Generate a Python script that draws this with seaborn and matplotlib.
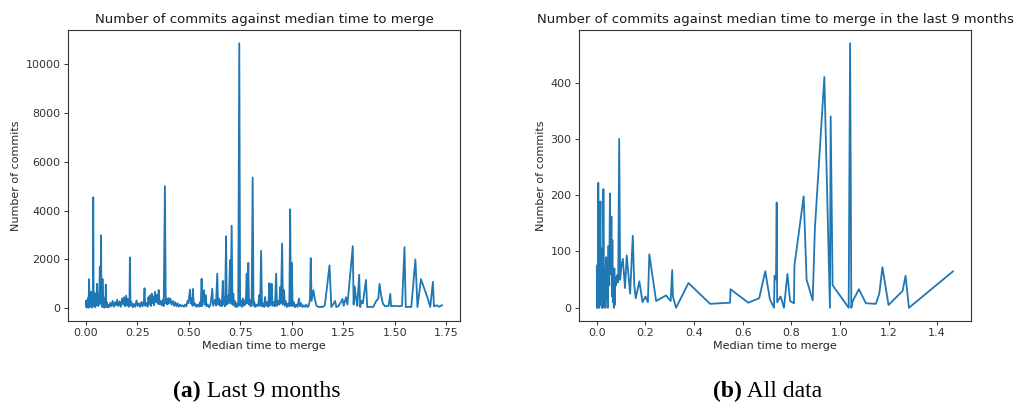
import matplotlib
matplotlib.use("Agg")
import matplotlib.pyplot as plt
import seaborn as sns
import pandas as pd

# ---- Panel (a): Last 9 months ----
left_x_dense = [0.000, 0.002, 0.004, 0.006, 0.008, 0.010, 0.012, 0.014, 0.016, 0.018,
                0.020, 0.022, 0.024, 0.026, 0.028, 0.030, 0.032, 0.034, 0.036, 0.038,
                0.040, 0.042, 0.044, 0.046, 0.048, 0.050, 0.052, 0.055, 0.057, 0.059,
                0.061, 0.063, 0.065, 0.068, 0.070, 0.072, 0.074, 0.076, 0.078, 0.080,
                0.081, 0.083, 0.085, 0.087, 0.089, 0.091, 0.093, 0.095, 0.097, 0.099,
                0.101, 0.103]
left_y_dense = [80, 320, 30, 280, 60, 420, 20, 350, 1190, 40,
                450, 80, 680, 120, 380, 30, 550, 150, 4540, 90,
                480, 220, 620, 40, 520, 130, 400, 1000, 180, 460,
                90, 560, 200, 1700, 260, 600, 2990, 150, 700, 50,
                1200, 250, 480, 60, 380, 30, 330, 100, 970, 60,
                260, 40]

left_x_mid = [0.106, 0.112, 0.118, 0.124, 0.130, 0.136, 0.142, 0.148, 0.152, 0.158,
              0.164, 0.170, 0.176, 0.182, 0.186, 0.190, 0.196, 0.200, 0.204, 0.208,
              0.212, 0.214, 0.217, 0.222, 0.228, 0.234, 0.240, 0.246, 0.252, 0.258,
              0.264, 0.270, 0.276, 0.282, 0.285, 0.288, 0.294, 0.300, 0.304, 0.308,
              0.312, 0.316, 0.320, 0.324, 0.328, 0.332, 0.336, 0.340, 0.346, 0.350,
              0.354, 0.358, 0.362, 0.368, 0.374, 0.378, 0.384, 0.388, 0.392, 0.396,
              0.400, 0.404, 0.410, 0.416, 0.422, 0.428, 0.434, 0.440, 0.446, 0.452,
              0.458, 0.464, 0.470, 0.476, 0.482, 0.488, 0.494, 0.498, 0.502, 0.506,
              0.510, 0.514, 0.518, 0.520, 0.524, 0.530, 0.536, 0.542, 0.548, 0.554,
              0.558, 0.562, 0.566, 0.570, 0.574, 0.578, 0.582, 0.586, 0.592, 0.598,
              0.604, 0.608, 0.614, 0.618, 0.622, 0.628, 0.632, 0.638, 0.642, 0.648,
              0.652, 0.656, 0.660, 0.665, 0.668, 0.672, 0.676, 0.681, 0.684, 0.688,
              0.692, 0.696, 0.700, 0.703, 0.708, 0.712, 0.716, 0.720, 0.724, 0.728,
              0.732, 0.736, 0.740, 0.745, 0.749, 0.754, 0.758, 0.762, 0.766, 0.770,
              0.774, 0.778, 0.781, 0.784, 0.789, 0.792, 0.796, 0.800, 0.805, 0.810,
              0.814, 0.818, 0.822, 0.828, 0.834, 0.838, 0.842, 0.846, 0.851, 0.855,
              0.860, 0.866, 0.870, 0.874, 0.880, 0.886, 0.891, 0.895, 0.898, 0.902,
              0.906, 0.912, 0.918, 0.924, 0.928, 0.934, 0.940, 0.943, 0.947, 0.953,
              0.957, 0.962, 0.966, 0.970, 0.976, 0.982, 0.988, 0.992, 0.996, 1.000,
              1.004, 1.010, 1.016, 1.022, 1.028, 1.035, 1.040, 1.046, 1.052, 1.058,
              1.064, 1.070, 1.076, 1.082, 1.088]
left_y_mid = [150, 40, 220, 80, 300, 60, 250, 120, 350, 90,
              280, 60, 400, 150, 450, 80, 520, 120, 380, 60,
              300, 2080, 100, 250, 40, 180, 60, 320, 90, 200,
              50, 260, 80, 300, 820, 100, 220, 60, 460, 150,
              520, 90, 600, 200, 480, 120, 670, 250, 560, 180,
              750, 160, 300, 120, 350, 90, 5000, 200, 380, 150,
              420, 200, 400, 150, 300, 100, 250, 80, 200, 60,
              150, 80, 120, 60, 150, 80, 300, 200, 500, 770,
              200, 400, 100, 790, 120, 200, 60, 150, 60, 250,
              80, 1210, 100, 400, 740, 150, 530, 80, 150, 40,
              120, 300, 800, 100, 200, 350, 100, 1420, 150, 400,
              100, 300, 80, 1120, 150, 450, 80, 2950, 150, 500,
              200, 700, 1970, 200, 3380, 150, 600, 100, 300, 50,
              200, 60, 150, 10850, 100, 300, 60, 400, 100, 300,
              150, 500, 1420, 200, 1860, 150, 350, 80, 200, 5350,
              100, 250, 60, 150, 80, 200, 530, 100, 2350, 80,
              200, 50, 460, 100, 250, 60, 1030, 120, 300, 1000,
              100, 250, 80, 1420, 100, 300, 150, 870, 200, 2650,
              150, 740, 100, 300, 50, 200, 80, 4050, 100, 1860,
              80, 250, 40, 150, 60, 400, 80, 200, 50, 120,
              60, 150, 50, 100, 350]

left_x_tail = [1.092, 1.096, 1.105, 1.112, 1.120, 1.130, 1.140, 1.150, 1.160, 1.170,
               1.183, 1.192, 1.200, 1.210, 1.216, 1.225, 1.235, 1.246, 1.252, 1.258,
               1.263, 1.270, 1.296, 1.300, 1.305, 1.312, 1.318, 1.327, 1.332, 1.338,
               1.345, 1.360, 1.366, 1.380, 1.395, 1.410, 1.420, 1.426, 1.434, 1.442,
               1.452, 1.470, 1.478, 1.482, 1.500, 1.520, 1.535, 1.547, 1.553, 1.570,
               1.580, 1.600, 1.610, 1.627, 1.660, 1.672, 1.685, 1.690, 1.705, 1.715,
               1.730]
left_y_tail = [2050, 300, 740, 360, 100, 50, 60, 50, 120, 800,
               1760, 50, 150, 300, 50, 80, 200, 380, 100, 300,
               450, 150, 2540, 150, 900, 400, 100, 1370, 50, 300,
               200, 1160, 50, 60, 50, 300, 400, 1000, 500, 200,
               80, 100, 590, 80, 100, 80, 100, 2500, 50, 60,
               50, 2000, 50, 1190, 400, 50, 1080, 80, 120, 60,
               130]

left_x = left_x_dense + left_x_mid + left_x_tail
left_y = left_y_dense + left_y_mid + left_y_tail

# ---- Panel (b): All data ----
right_x = [0.000, 0.001, 0.002, 0.004, 0.006, 0.008, 0.010, 0.012, 0.015, 0.017,
           0.019, 0.021, 0.023, 0.025, 0.027, 0.030, 0.033, 0.035, 0.038, 0.040,
           0.043, 0.045, 0.048, 0.051, 0.054, 0.057, 0.060, 0.062, 0.064, 0.066,
           0.068, 0.070, 0.072, 0.074, 0.076, 0.079, 0.083, 0.088, 0.092, 0.096,
           0.100, 0.107, 0.116, 0.123, 0.137, 0.148, 0.154, 0.160, 0.175, 0.188,
           0.200, 0.210, 0.216, 0.244, 0.285, 0.304, 0.310, 0.313, 0.326, 0.377,
           0.466, 0.548, 0.550, 0.623, 0.668, 0.693, 0.712, 0.729, 0.731, 0.737,
           0.740, 0.742, 0.756, 0.770, 0.784, 0.795, 0.811, 0.813, 0.851, 0.863,
           0.888, 0.897, 0.936, 0.959, 0.962, 0.970, 1.036, 1.042, 1.047, 1.053,
           1.078, 1.107, 1.148, 1.162, 1.175, 1.200, 1.258, 1.270, 1.284, 1.466]
right_y = [75, 0, 20, 0, 222, 60, 0, 100, 189, 5,
           105, 0, 60, 0, 211, 10, 70, 0, 90, 15,
           88, 0, 110, 40, 203, 60, 162, 20, 120, 10,
           68, 0, 70, 5, 55, 40, 58, 45, 300, 50,
           70, 87, 35, 93, 25, 128, 40, 17, 47, 10,
           20, 10, 95, 12, 22, 12, 67, 20, 0, 44,
           7, 9, 33, 9, 17, 65, 15, 0, 57, 50,
           187, 10, 20, 0, 60, 12, 8, 75, 198, 50,
           13, 140, 410, 0, 340, 40, 0, 470, 0, 12,
           33, 8, 7, 25, 72, 5, 30, 57, 0, 65]

titles = ["Number of commits against median time to merge",
          "Number of commits against median time to merge in the last 9 months"]
xlabel = "Median time to merge"
ylabel = "Number of commits"
caption_tags = ["(a)", "(b)"]
caption_texts = [" Last 9 months", " All data"]

sns.set_style("ticks")
plt.rcParams["font.family"] = ["DejaVu Sans"]
plt.rcParams["axes.edgecolor"] = "#333333"
plt.rcParams["xtick.color"] = "#333333"
plt.rcParams["ytick.color"] = "#333333"

fig = plt.figure(figsize=(10.16, 4.07), dpi=100)
axL = fig.add_axes([68/1016, 86/407, 392/1016, 291/407])
axR = fig.add_axes([579/1016, 86/407, 392/1016, 291/407])

dfL = pd.DataFrame({"x": left_x, "y": left_y})
dfR = pd.DataFrame({"x": right_x, "y": right_y})

line_col = "#1f77b4"
sns.lineplot(data=dfL, x="x", y="y", ax=axL, color=line_col, linewidth=1.3,
             estimator=None, sort=False)
sns.lineplot(data=dfR, x="x", y="y", ax=axR, color=line_col, linewidth=1.3,
             estimator=None, sort=False)

for ax, t in zip([axL, axR], titles):
    ax.set_title(t, fontsize=9.5, pad=5, color="#1a1a1a")
    ax.set_xlabel(xlabel, fontsize=8, labelpad=2)
    ax.set_ylabel(ylabel, fontsize=8, labelpad=3)
    ax.tick_params(labelsize=8, length=2.8, width=0.7, pad=2.5)
    for s in ax.spines.values():
        s.set_linewidth(0.8)
        s.set_visible(True)
    ax.margins(x=0.05, y=0.05)

axL.set_xticks([0.00, 0.25, 0.50, 0.75, 1.00, 1.25, 1.50, 1.75])
axL.set_xticklabels(["0.00", "0.25", "0.50", "0.75", "1.00", "1.25", "1.50", "1.75"])
axL.set_yticks([0, 2000, 4000, 6000, 8000, 10000])
axR.set_xticks([0.0, 0.2, 0.4, 0.6, 0.8, 1.0, 1.2, 1.4])
axR.set_yticks([0, 100, 200, 300, 400])

cap_x = [173/1016, 713/1016]
for cx, tag, txt in zip(cap_x, caption_tags, caption_texts):
    t1 = fig.text(cx, 10/407, tag, fontsize=17, fontweight="bold", color="black",
                  family=["Liberation Serif"], ha="left", va="baseline")
    plt.annotate(txt, xy=(1, 0), xycoords=t1, fontsize=17, color="black",
                 family=["Liberation Serif"], ha="left", va="bottom",
                 annotation_clip=False)

fig.savefig("out.png", dpi=100)
